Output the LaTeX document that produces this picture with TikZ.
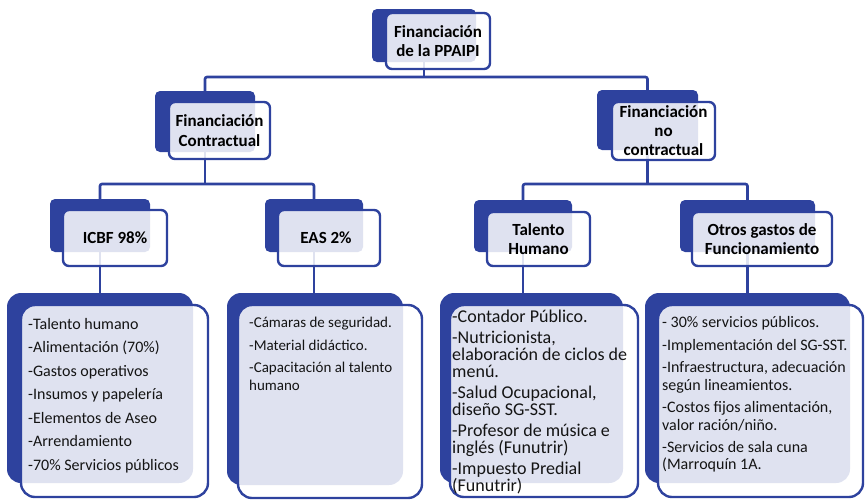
\documentclass[tikz,border=0pt]{standalone}
\usepackage{fontspec}
\setmainfont{Carlito}
\usetikzlibrary{calc}
\definecolor{myblue}{RGB}{46,66,158}
\definecolor{txt}{RGB}{20,20,20}
\pgfdeclarelayer{bg}
\pgfsetlayers{bg,main}
\begin{document}
\begin{tikzpicture}[x=1pt,y=-1pt,
  conn/.style={draw=myblue,line width=2.6pt,rounded corners=2pt},
  backbox/.style={fill=myblue,draw=none,rounded corners=5pt,inner sep=0pt},
  frontbox/.style={draw=myblue,line width=2.4pt,fill=white,fill opacity=0.85,text opacity=1,
    rounded corners=6pt,inner sep=0pt,align=center,text=black,
    font=\bfseries\fontsize{17}{19.5}\selectfont},
  backlist/.style={backbox,rounded corners=14pt},
  frontlist/.style={frontbox,rounded corners=14pt},
  listtext/.style={anchor=north west,inner sep=0pt,align=left,text=txt}
]
\useasboundingbox (0,0) rectangle (865,499);

% back boxes
\node[backbox,minimum width=104pt,minimum height=53pt] (topb) at (424,35.5) {};
\node[backbox,minimum width=100pt,minimum height=61pt] (fcb) at (205,121.5) {};
\node[backbox,minimum width=101pt,minimum height=60pt] (fncb) at (647.5,120) {};
\node[backbox,minimum width=100pt,minimum height=53pt] (icbfb) at (100,225.5) {};
\node[backbox,minimum width=98pt,minimum height=53pt] (easb) at (314,225.5) {};
\node[backbox,minimum width=98pt,minimum height=52pt] (talb) at (523,226) {};
\node[backbox,minimum width=135pt,minimum height=52pt] (otrb) at (747.5,226) {};
\node[backlist,minimum width=186pt,minimum height=190pt] (icbflb) at (100,388) {};
\node[backlist,minimum width=176pt,minimum height=192pt] (easlb) at (315,389) {};
\node[backlist,minimum width=183pt,minimum height=190pt] (tallb) at (531.5,388) {};
\node[backlist,minimum width=205pt,minimum height=190pt] (otrlb) at (747.5,388) {};

% connectors
\begin{pgfonlayer}{bg}
\coordinate (h1) at (0,77);
\coordinate (h2) at (0,184);
\draw[conn] (topb.center) -- (topb.center |- h1);
\draw[conn] (fcb.center) -- (fcb.center |- h1) -- (fncb.center |- h1) -- (fncb.center);
\draw[conn] (fcb.center) -- (fcb.center |- h2);
\draw[conn] (icbfb.center) -- (icbfb.center |- h2) -- (easb.center |- h2) -- (easb.center);
\draw[conn] (fncb.center) -- (fncb.center |- h2);
\draw[conn] (talb.center) -- (talb.center |- h2) -- (otrb.center |- h2) -- (otrb.center);
\draw[conn] (icbfb.center) -- (icbfb.center |- icbflb.north);
\draw[conn] (easb.center) -- (easb.center |- easlb.north);
\draw[conn] (talb.center) -- (talb.center |- tallb.north);
\draw[conn] (otrb.center) -- (otrb.center |- otrlb.north);
\end{pgfonlayer}

% front boxes
\node[frontbox,minimum width=104pt,minimum height=56pt] (top) at (438,41) {Financiación\\de la PPAIPI};
\node[frontbox,minimum width=101pt,minimum height=57pt] (fc) at (219.5,130.5) {Financiación\\Contractual};
\node[frontbox,minimum width=103pt,minimum height=58pt,font=\bfseries\fontsize{17}{19}\selectfont] (fnc) at (663.5,131) {Financiación\\no\\contractual};
\node[frontbox,minimum width=104pt,minimum height=56pt] (icbf) at (115,238) {ICBF 98\%};
\node[frontbox,minimum width=102pt,minimum height=56pt] (eas) at (329,238) {\hspace*{-6pt}EAS 2\%};
\node[frontbox,minimum width=103pt,minimum height=54pt] (tal) at (538.5,239) {Talento\\Humano};
\node[frontbox,minimum width=140pt,minimum height=54pt] (otr) at (762,239) {Otros gastos de\\Funcionamiento};
\node[frontlist,minimum width=187pt,minimum height=192pt] (icbfl) at (114.5,401) {};
\node[frontlist,minimum width=184pt,minimum height=193pt] (easl) at (330,401.5) {};
\node[frontlist,minimum width=188pt,minimum height=192pt] (tall) at (544,401) {};
\node[frontlist,minimum width=205pt,minimum height=192pt] (otrl) at (760.5,401) {};

% list texts
\node[listtext,font=\fontsize{16}{19}\selectfont] (icbft) at (28,318) {-Talento humano\\[4.5pt]-Alimentación (70\%)\\[4.5pt]-Gastos operativos\\[4.5pt]-Insumos y papelería\\[4.5pt]-Elementos de Aseo\\[4.5pt]-Arrendamiento\\[4.5pt]-70\% Servicios públicos};
\node[listtext,font=\fontsize{15}{18}\selectfont] (east) at (249,317) {-Cámaras de seguridad.\\[4.5pt]-Material didáctico.\\[4.5pt]-Capacitación al talento\\humano};
\node[listtext,font=\fontsize{18}{17.3}\selectfont] (talt) at (452,310) {-Contador Público.\\[3.3pt]-Nutricionista,\\elaboración de ciclos de\\menú.\\[3.3pt]-Salud Ocupacional,\\diseño SG-SST.\\[3.3pt]-Profesor de música e\\inglés (Funutrir)\\[3.3pt]-Impuesto Predial\\(Funutrir)};
\node[listtext,font=\fontsize{16}{17.5}\selectfont] (otrt) at (662,316.5) {- 30\% servicios públicos.\\[4.9pt]-Implementación del SG-SST.\\[4.9pt]-Infraestructura, adecuación\\según lineamientos.\\[4.9pt]-Costos fijos alimentación,\\valor ración/niño.\\[4.9pt]-Servicios de sala cuna\\(Marroquín 1A.};
\end{tikzpicture}
\end{document}
